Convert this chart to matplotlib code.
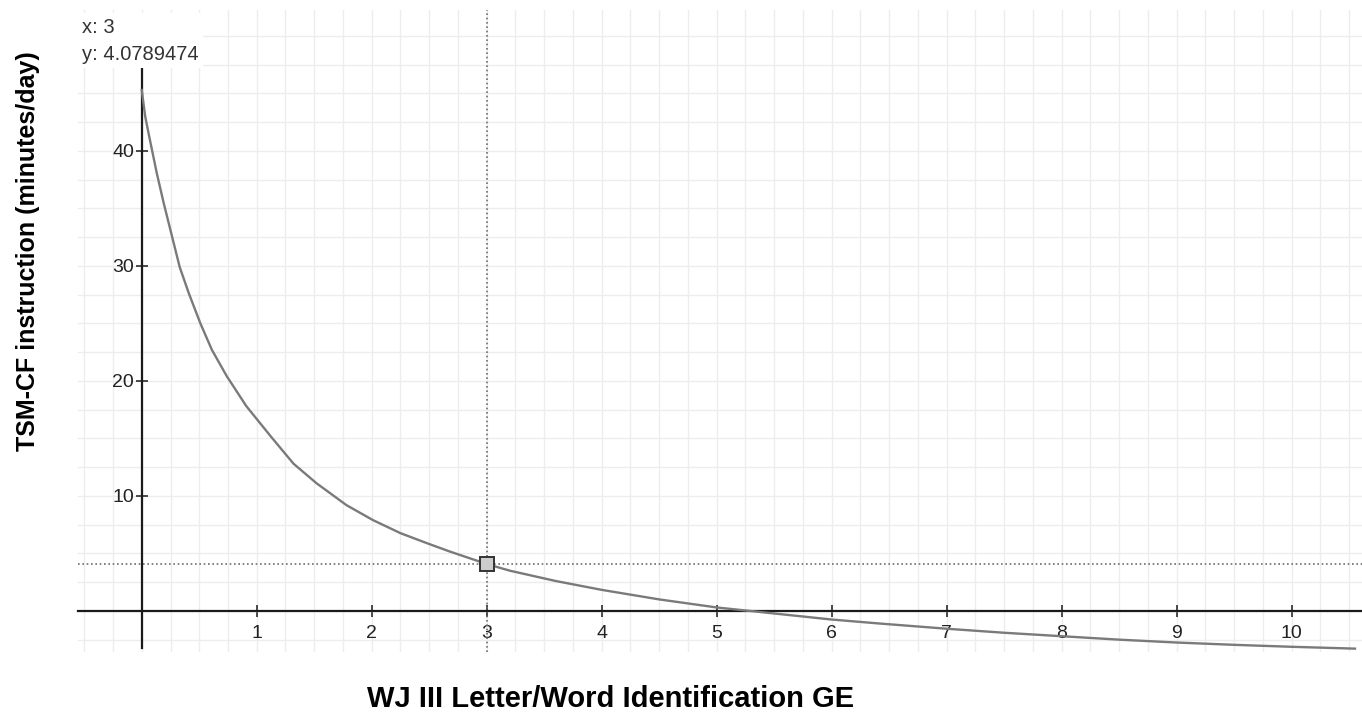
import matplotlib
matplotlib.use('Agg')

import matplotlib.pyplot as plt
import numpy as np

# curve (x = grade equivalent, y = minutes/day)
curve_x = [0.0, 0.03, 0.06, 0.13, 0.19, 0.25, 0.33, 0.41, 0.51, 0.61, 0.74, 0.91,
           1.12, 1.32, 1.52, 1.78, 2.01, 2.25, 2.48, 2.68, 3.0, 3.2, 3.6, 4.0,
           4.5, 5.0, 5.43, 6.0, 6.42, 7.0, 7.5, 8.0, 8.5, 9.0, 9.5, 10.0, 10.55]
curve_y = [45.3, 43.0, 41.5, 38.1, 35.5, 33.1, 29.9, 27.6, 25.0, 22.7, 20.4, 17.8,
           15.2, 12.8, 11.1, 9.2, 7.9, 6.76, 5.89, 5.16, 4.08, 3.5, 2.6, 1.83,
           1.0, 0.3, -0.15, -0.75, -1.1, -1.55, -1.9, -2.2, -2.5, -2.75, -2.95, -3.12, -3.28]

x_ticks = [1, 2, 3, 4, 5, 6, 7, 8, 9, 10]
y_ticks = [10, 20, 30, 40]

# selected point (cursor readout)
sel_x = 3
sel_y = 4.0789474

plt.rcParams['font.family'] = ['Liberation Sans', 'DejaVu Sans']

fig = plt.figure(figsize=(13.62, 7.22), dpi=100)
ax = fig.add_axes([0.0573, 0.0970, 0.9427, 0.8892])

ax.set_xlim(-0.554, 10.611)
ax.set_ylim(-3.57, 52.26)

# grid
ax.set_xticks(np.arange(-0.5, 10.75, 0.25), minor=True)
ax.set_yticks(np.arange(-2.5, 52.5, 2.5), minor=True)
ax.set_xticks(x_ticks)
ax.set_yticks(y_ticks)
ax.grid(True, which='both', color='#ededed', linewidth=1.0, zorder=0)
ax.set_axisbelow(True)

# axes through the origin
for s in ['top', 'right']:
    ax.spines[s].set_visible(False)
ax.spines['left'].set_position(('data', 0))
ax.spines['bottom'].set_position(('data', 0))
ax.spines['left'].set_bounds(-3.2, 47.2)
for s in ['left', 'bottom']:
    ax.spines[s].set_linewidth(1.6)
    ax.spines[s].set_color('#1a1a1a')

ax.tick_params(which='minor', length=0)
ax.tick_params(which='major', direction='inout', length=9, width=1.1,
               color='#1a1a1a', labelsize=14, labelcolor='#222222')
ax.tick_params(axis='x', pad=6)
ax.tick_params(axis='y', pad=1)

# crosshair at the selected point
ax.axvline(sel_x, color='#6e6e6e', linestyle=(0, (1, 1.6)), linewidth=1.2, zorder=2)
ax.axhline(sel_y, color='#6e6e6e', linestyle=(0, (1, 1.6)), linewidth=1.2, zorder=2)

ax.plot(curve_x, curve_y, color='#7a7a7a', linewidth=1.7, zorder=3)
ax.plot([sel_x], [sel_y], marker='s', markersize=10, markerfacecolor='#cccccc',
        markeredgecolor='#333333', markeredgewidth=1.4, zorder=4)

# readout box
ax.text(0.003, 0.988, f"x: {sel_x}\ny: {sel_y}", transform=ax.transAxes,
        ha='left', va='top', fontsize=14.5, color='#333333', linespacing=1.55,
        bbox=dict(facecolor='white', edgecolor='none', pad=3), zorder=5)

fig.text(0.448, 0.013, "WJ III Letter/Word Identification GE", ha='center',
         va='bottom', fontsize=21, fontweight='bold')
fig.text(0.0206, 0.652, "TSM-CF instruction (minutes/day)", ha='center',
         va='center', rotation=90, fontsize=18, fontweight='bold')

fig.savefig('out.png', dpi=100)
